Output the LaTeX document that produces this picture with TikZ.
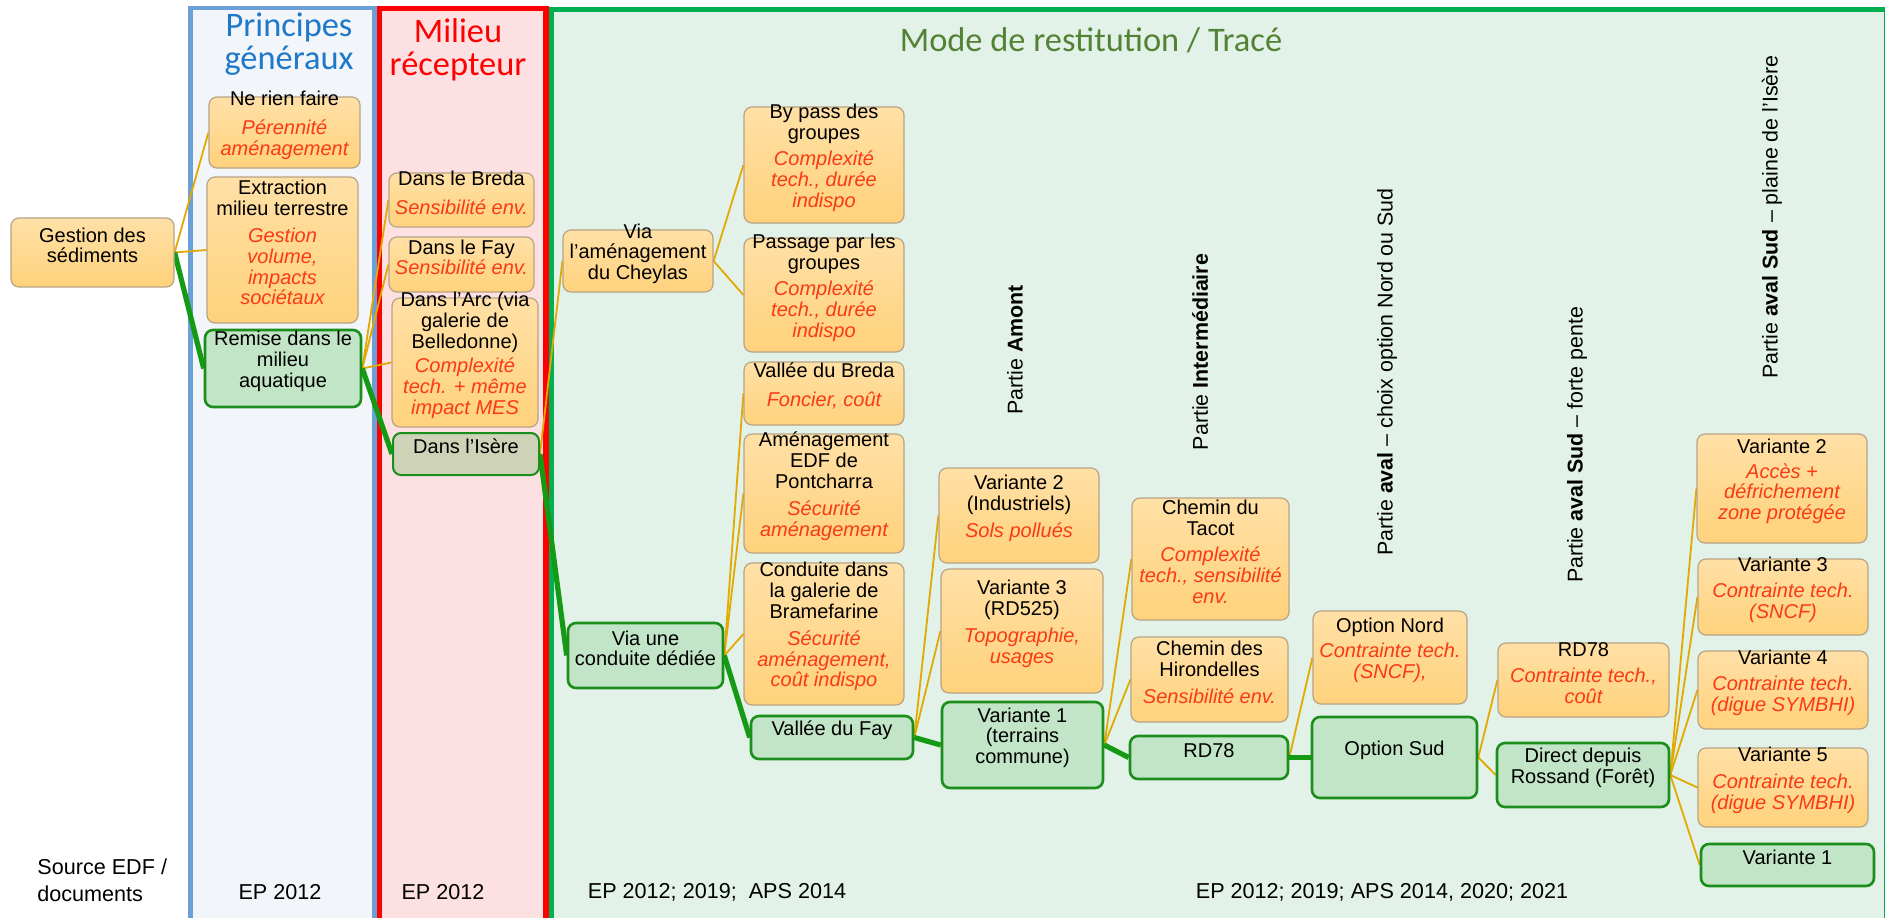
\documentclass[tikz,border=0pt]{standalone}
\usepackage{fontspec}
\setmainfont{Liberation Sans}
\newfontfamily\titlefont{Carlito}
\usetikzlibrary{fit}
\definecolor{otop}{HTML}{FFE0A6}
\definecolor{obot}{HTML}{FFD27C}
\definecolor{oborder}{HTML}{B8A384}
\definecolor{gfill}{HTML}{C1E5C6}
\definecolor{gborder}{HTML}{1C8E1C}
\definecolor{ifill}{HTML}{CED3B7}
\definecolor{olinec}{HTML}{E3A900}
\definecolor{glinec}{HTML}{149A14}
\definecolor{redtxt}{HTML}{FA3A14}
\definecolor{bluetitle}{HTML}{1F78C8}
\definecolor{greentitle}{HTML}{548235}
\definecolor{bluepanel}{HTML}{6A9FD8}
\definecolor{bluefill}{HTML}{F2F5FA}
\definecolor{redfill}{HTML}{FDE1E2}
\definecolor{greenpanel}{HTML}{00B050}
\definecolor{greenfill}{HTML}{E2F2E8}
\pgfdeclarelayer{bg}
\pgfdeclarelayer{ln}
\pgfsetlayers{bg,ln,main}
\newcommand\rl[1]{{\color{redtxt}\itshape #1}}
\newcommand\bx[7]{\path (#3,#4) coordinate (#2-a) (#5,#6) coordinate (#2-b);
  \node[#1, fit=(#2-a)(#2-b)] (#2) {#7};}
\begin{document}
\begin{tikzpicture}[x=0.5pt,y=-0.5pt,
  base/.style={align=center, inner sep=0pt, font=\fontsize{10}{10.4}\selectfont, rounded corners=4pt},
  obox/.style={base, draw=oborder, line width=0.6pt, top color=otop, bottom color=obot},
  gbox/.style={base, draw=gborder, line width=1.3pt, fill=gfill},
  ibox/.style={base, draw=gborder, line width=1pt, fill=ifill},
  oline/.style={draw=olinec, line width=0.9pt},
  gline/.style={draw=glinec, line width=2.6pt},
  lab/.style={rotate=90, inner sep=0pt, font=\fontsize{10.7}{12}\selectfont},
  src/.style={inner sep=0pt, font=\fontsize{10.8}{13.5}\selectfont},
  ttl/.style={inner sep=0pt, align=center, font=\titlefont\fontsize{17.2}{16.2}\selectfont}]
\useasboundingbox (0,0) rectangle (1885,917);
\begin{pgfonlayer}{bg}
\begin{scope}
\clip (0,0) rectangle (1885,917);
\fill[white] (0,0) rectangle (1885,917);
\draw[bluepanel, fill=bluefill, line width=2.3pt] (190.5,8) rectangle (374.5,940);
\draw[red, fill=redfill, line width=2.7pt] (379.5,8.3) rectangle (546,940);
\draw[greenpanel, fill=greenfill, line width=2.3pt] (551.5,9.5) rectangle (1886,940);
\end{scope}
\end{pgfonlayer}
% titles
\node[ttl, bluetitle] (t1) at (289,44) {Principes\\généraux};
\node[ttl, red] (t2) at (458,50) {Milieu\\récepteur};
\node[ttl, greentitle] (t3) at (1091,40) {Mode de restitution / Tracé};
% rotated labels
\node[lab] (l1) at (1015,350) {Partie \textbf{Amont}};
\node[lab] (l2) at (1200,352) {Partie \textbf{Intermédiaire}};
\node[lab] (l3) at (1387,372) {Partie \textbf{aval} – choix option Nord ou Sud};
\node[lab] (l4) at (1577,445) {Partie \textbf{aval Sud} – forte pente};
\node[lab] (l5) at (1772,217) {Partie \textbf{aval Sud} – plaine de l'Isère};
% sources
\node[src, align=left, anchor=west] (s0) at (37,880) {Source EDF /\\documents};
\node[src] (s1) at (280,892) {EP 2012};
\node[src] (s2) at (443,892) {EP 2012};
\node[src] (s3) at (717,892) {EP 2012; 2019;\ \ APS 2014};
\node[src] (s4) at (1382,892) {EP 2012; 2019; APS 2014, 2020; 2021};
% nodes
\bx{obox}{g1}{11}{218}{174}{287}{Gestion des\\sédiments}
\bx{obox}{pr1}{209}{97}{360}{168}{Ne rien faire\\[4pt]\rl{Pérennité}\\\rl{aménagement}}
\bx{obox}{pr2}{207}{177}{358}{323}{Extraction\\milieu terrestre\\[3pt]\rl{Gestion}\\\rl{volume,}\\\rl{impacts}\\\rl{sociétaux}}
\bx{gbox}{pr3}{205}{330}{361}{407}{Remise dans le\\milieu\\aquatique}
\bx{obox}{m1}{389}{173}{534}{227}{Dans le Breda\\[4pt]\rl{Sensibilité env.}}
\bx{obox}{m2}{389}{237}{534}{292}{Dans le Fay\\\rl{Sensibilité env.}}
\bx{obox}{m3}{392}{298}{538}{427}{Dans l’Arc (via\\galerie de\\Belledonne)\\[2pt]\rl{Complexité}\\\rl{tech. + même}\\\rl{impact MES}}
\bx{ibox}{m4}{393}{433}{539}{475}{Dans l’Isère}
\bx{obox}{a1}{563}{230}{713}{292}{Via\\l’aménagement\\du Cheylas}
\bx{gbox}{a2}{568}{623}{723}{688}{Via une\\conduite dédiée}
\bx{obox}{b1}{744}{107}{904}{223}{By pass des\\groupes\\[3pt]\rl{Complexité}\\\rl{tech., durée}\\\rl{indispo}}
\bx{obox}{b2}{744}{238}{904}{352}{Passage par les\\groupes\\[3pt]\rl{Complexité}\\\rl{tech., durée}\\\rl{indispo}}
\bx{obox}{b3}{744}{362}{904}{425}{Vallée du Breda\\[4pt]\rl{Foncier, coût}}
\bx{obox}{b4}{744}{434}{904}{553}{Aménagement\\EDF de\\Pontcharra\\[3pt]\rl{Sécurité}\\\rl{aménagement}}
\bx{obox}{b5}{744}{563}{904}{705}{Conduite dans\\la galerie de\\Bramefarine\\[3pt]\rl{Sécurité}\\\rl{aménagement,}\\\rl{coût indispo}}
\bx{gbox}{b6}{751}{716}{913}{759}{Vallée du Fay}
\bx{obox}{c2}{939}{468}{1099}{563}{Variante 2\\(Industriels)\\[3pt]\rl{Sols pollués}}
\bx{obox}{c3}{941}{569}{1103}{693}{Variante 3\\(RD525)\\[3pt]\rl{Topographie,}\\\rl{usages}}
\bx{gbox}{c1}{942}{702}{1103}{788}{Variante 1\\(terrains\\commune)}
\bx{obox}{d1}{1132}{498}{1289}{620}{Chemin du\\Tacot\\[3pt]\rl{Complexité}\\\rl{tech., sensibilité}\\\rl{env.}}
\bx{obox}{d2}{1131}{637}{1288}{722}{Chemin des\\Hirondelles\\[3pt]\rl{Sensibilité env.}}
\bx{gbox}{d3}{1130}{736}{1288}{779}{RD78}
\bx{obox}{e1}{1313}{611}{1467}{704}{Option Nord\\[2pt]\rl{Contrainte tech.}\\\rl{(SNCF),}}
\bx{gbox}{e2}{1312}{717}{1477}{798}{Option Sud}
\bx{obox}{f1}{1498}{643}{1669}{717}{RD78\\[3pt]\rl{Contrainte tech.,}\\\rl{coût}}
\bx{gbox}{f2}{1497}{743}{1669}{807}{Direct depuis\\Rossand (Forêt)}
\bx{obox}{h2}{1697}{434}{1867}{543}{Variante 2\\[2pt]\rl{Accès +}\\\rl{défrichement}\\\rl{zone protégée}}
\bx{obox}{h3}{1698}{559}{1868}{635}{Variante 3\\[3pt]\rl{Contrainte tech.}\\\rl{(SNCF)}}
\bx{obox}{h4}{1698}{651}{1868}{729}{Variante 4\\[3pt]\rl{Contrainte tech.}\\\rl{(digue SYMBHI)}}
\bx{obox}{h5}{1698}{748}{1868}{827}{Variante 5\\[3pt]\rl{Contrainte tech.}\\\rl{(digue SYMBHI)}}
\bx{gbox}{h1}{1701}{844}{1874}{886}{Variante 1}
% connectors
\begin{pgfonlayer}{ln}
\draw[oline] (g1.east) -- (pr1.west);
\draw[oline] (g1.east) -- (pr2.west);
\draw[gline] (g1.east) -- (pr3.west);
\draw[oline] (pr3.east) -- (m1.west);
\draw[oline] (pr3.east) -- (m2.west);
\draw[oline] (pr3.east) -- (m3.west);
\draw[gline] (pr3.east) -- (m4.west);
\draw[oline] (m4.east) -- (a1.west);
\draw[gline] (m4.east) -- (a2.west);
\draw[oline] (a1.east) -- (b1.west);
\draw[oline] (a1.east) -- (b2.west);
\draw[oline] (a2.east) -- (b3.west);
\draw[oline] (a2.east) -- (b4.west);
\draw[oline] (a2.east) -- (b5.west);
\draw[gline] (a2.east) -- (b6.west);
\draw[oline] (b6.east) -- (c2.west);
\draw[oline] (b6.east) -- (c3.west);
\draw[gline] (b6.east) -- (c1.west);
\draw[oline] (c1.east) -- (d1.west);
\draw[oline] (c1.east) -- (d2.west);
\draw[gline] (c1.east) -- (d3.west);
\draw[oline] (d3.east) -- (e1.west);
\draw[gline] (d3.east) -- (e2.west);
\draw[oline] (e2.east) -- (f1.west);
\draw[oline] (e2.east) -- (f2.west);
\draw[oline] (f2.east) -- (h2.west);
\draw[oline] (f2.east) -- (h3.west);
\draw[oline] (f2.east) -- (h4.west);
\draw[oline] (f2.east) -- (h5.west);
\draw[oline] (f2.east) -- (h1.west);
\end{pgfonlayer}
\end{tikzpicture}
\end{document}
